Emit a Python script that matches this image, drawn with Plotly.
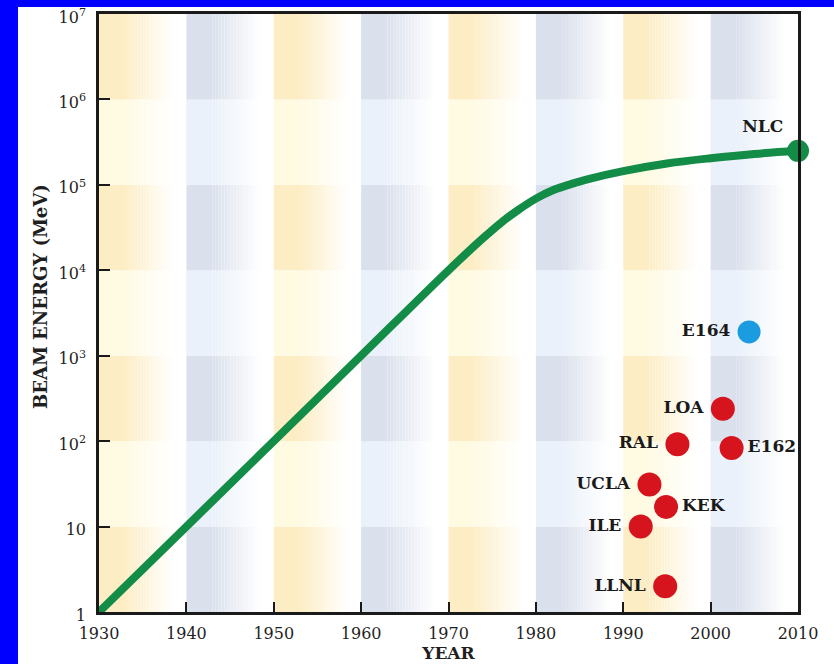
import numpy as np
import plotly.graph_objects as go

# Envelope of conventional accelerator beam energy (MeV) by year
curve_years = [1930, 1940, 1950, 1960, 1970, 1974, 1976, 1978, 1980, 1982, 1984, 1986,
               1990, 1995, 2000, 2005, 2010]
curve_energy = [1, 10, 100, 1000, 1.0e4, 2.4e4, 3.6e4, 5.1e4, 6.9e4, 8.7e4, 1.02e5, 1.17e5,
                1.45e5, 1.78e5, 2.05e5, 2.3e5, 2.5e5]

# Individual experiments
exp_names = ["LOA", "RAL", "E162", "UCLA", "KEK", "ILE", "LLNL"]
exp_years = [2001.4, 1996.2, 2002.4, 1993.0, 1994.9, 1992.0, 1994.8]
exp_energy = [240, 92, 83, 31, 17, 10, 2.0]
exp_textpos = ["middle left", "middle left", "middle right", "middle left",
               "middle right", "middle left", "middle left"]

e164_year = [2004.4]
e164_energy = [1900]

nlc_year = [2010]
nlc_energy = [2.5e5]

year_ticks = list(range(1930, 2011, 10))
energy_ticks = [1, 10, 100, 1e3, 1e4, 1e5, 1e6, 1e7]
energy_ticktext = ["1", "10", "10<sup>2</sup>", "10<sup>3</sup>", "10<sup>4</sup>",
                   "10<sup>5</sup>", "10<sup>6</sup>", "10<sup>7</sup>"]

FONT = "DejaVu Serif"
INK = "#1a1a1a"
TICK_INK = "#1f1f1f"
GREEN = "#138c47"
RED = "#d5141d"
BLUE = "#1b9be0"
THIN = "\u2009"  # thin space: a little extra room between a dot and a label on its left

# Checkerboard background: warm / cool columns per decade, alternating strength per power of ten
tile_colors = {
    ("warm", True): (252, 237, 197),
    ("cool", True): (218, 224, 236),
    ("warm", False): (255, 250, 226),
    ("cool", False): (234, 241, 250),
}


def mix(c, t):
    r, g, b = (int(round(v + (255 - v) * t)) for v in c)
    return f"rgb({r},{g},{b})"


def pad_label(name, pos):
    return name + THIN if pos.endswith("left") else name


shapes = []
# white panel framing the chart on the blue page
shapes.append(dict(type="rect", xref="paper", yref="paper", layer="below",
                   x0=-81 / 699, x1=740 / 699, y0=-60 / 598, y1=605 / 598,
                   fillcolor="white", line=dict(width=0)))

# each tile: solid for the first 30% of the decade, then a fade to white by 85%
solid_frac, fade_end, n_fade = 0.30, 0.85, 16
for ci, x_start in enumerate(year_ticks[:-1]):
    hue = "warm" if ci % 2 == 0 else "cool"
    for k in range(7):
        strong = (k % 2 == 0)
        base = tile_colors[(hue, strong)]
        y0, y1 = 10 ** k, 10 ** (k + 1)
        shapes.append(dict(type="rect", xref="x", yref="y", layer="below",
                           x0=x_start, x1=x_start + 10 * solid_frac, y0=y0, y1=y1,
                           fillcolor=mix(base, 0.0), line=dict(width=0)))
        step = (fade_end - solid_frac) / n_fade
        for s in range(n_fade):
            f0 = solid_frac + s * step
            t = (s + 0.5) / n_fade
            shapes.append(dict(type="rect", xref="x", yref="y", layer="below",
                               x0=x_start + 10 * f0, x1=x_start + 10 * (f0 + step),
                               y0=y0, y1=y1,
                               fillcolor=mix(base, t), line=dict(width=0)))

fig = go.Figure()

fig.add_trace(go.Scatter(
    x=curve_years, y=curve_energy, mode="lines",
    line=dict(color=GREEN, width=8, shape="spline", smoothing=1.0),
    hoverinfo="skip", showlegend=False, cliponaxis=False))

label_font = dict(family=FONT, size=17, color=INK, weight="bold")

fig.add_trace(go.Scatter(
    x=nlc_year, y=nlc_energy, mode="markers+text", text=["NLC"],
    textposition="top left", textfont=label_font,
    marker=dict(color=GREEN, size=22), showlegend=False, cliponaxis=False))

fig.add_trace(go.Scatter(
    x=e164_year, y=e164_energy, mode="markers+text",
    text=[pad_label("E164", "middle left")],
    textposition="middle left", textfont=label_font,
    marker=dict(color=BLUE, size=23), showlegend=False, cliponaxis=False))

fig.add_trace(go.Scatter(
    x=exp_years, y=exp_energy, mode="markers+text",
    text=[pad_label(n, p) for n, p in zip(exp_names, exp_textpos)],
    textposition=exp_textpos, textfont=label_font,
    marker=dict(color=RED, size=24), showlegend=False, cliponaxis=False))

fig.update_layout(
    width=834, height=664,
    margin=dict(l=99, r=36, t=14, b=52, autoexpand=False),
    paper_bgcolor="#0000ff",
    plot_bgcolor="white",
    shapes=shapes,
    font=dict(family=FONT, color=INK),
    xaxis=dict(
        range=[1930, 2010], tickvals=year_ticks,
        ticks="inside", ticklen=10, tickwidth=2, tickcolor=INK,
        showline=True, linewidth=2.5, linecolor=INK, mirror=True,
        showgrid=False, zeroline=False,
        tickfont=dict(family=FONT, size=16, color=TICK_INK),
        ticklabelstandoff=5,
        title=dict(text="YEAR", standoff=1,
                   font=dict(family=FONT, size=17, color=TICK_INK, weight="bold")),
    ),
    yaxis=dict(
        type="log", range=[0, 7], tickvals=energy_ticks, ticktext=energy_ticktext,
        ticks="inside", ticklen=11, tickwidth=2, tickcolor=INK,
        showline=True, linewidth=2.5, linecolor=INK, mirror=True,
        showgrid=False, zeroline=False,
        tickfont=dict(family=FONT, size=16, color=TICK_INK),
        ticklabelstandoff=7, ticklabelshift=3, ticklabeloverflow="allow",
    ),
    annotations=[dict(
        text="BEAM ENERGY (MeV)", textangle=-90,
        xref="paper", yref="paper", x=(40 - 99) / 699, y=(612 - 297) / 598,
        xanchor="center", yanchor="middle", showarrow=False,
        font=dict(family=FONT, size=18, color=TICK_INK, weight="bold"),
    )],
)

fig.write_html("out.html")
